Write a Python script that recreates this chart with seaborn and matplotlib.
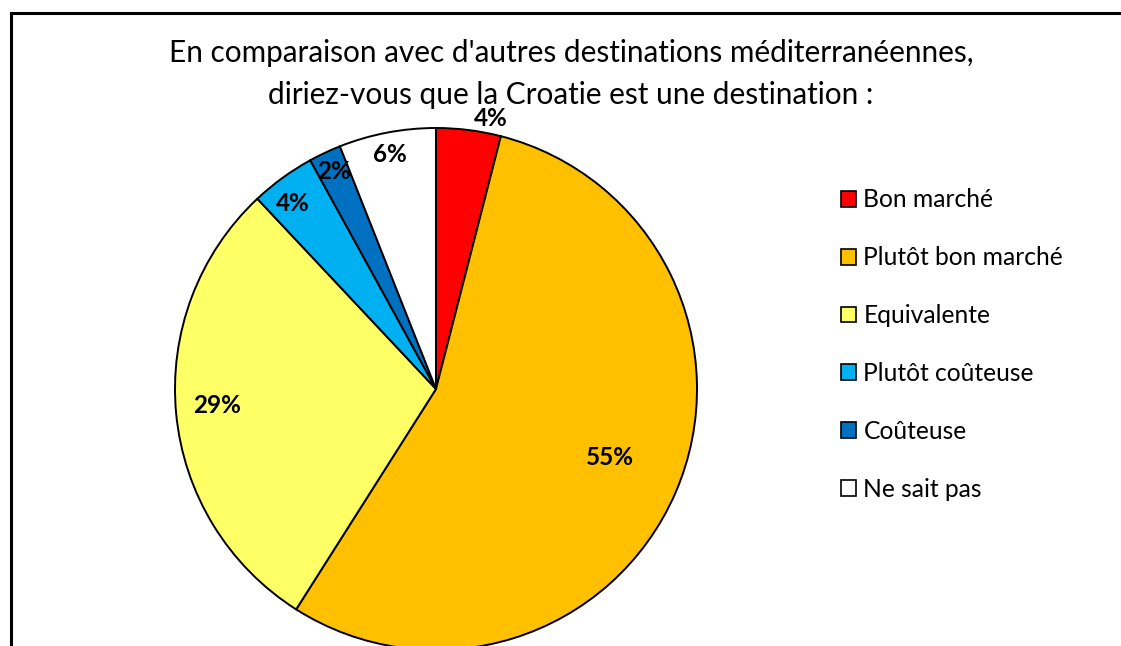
import matplotlib
matplotlib.use("Agg")
import matplotlib.pyplot as plt
import numpy as np
import seaborn as sns

# Survey answers: price of Croatia compared with other Mediterranean destinations
categories = ["Bon marché", "Plutôt bon marché", "Equivalente",
              "Plutôt coûteuse", "Coûteuse", "Ne sait pas"]
shares = [4, 55, 29, 4, 2, 6]
value_labels = ["4%", "55%", "29%", "4%", "2%", "6%"]
title_lines = ["En comparaison avec d'autres destinations méditerranéennes,",
               "diriez-vous que la Croatie est une destination :"]

colors = ["#FF0000", "#FFC000", "#FFFF66", "#00B0F0", "#0070C0", "#FFFFFF"]
# label placement: radius as a fraction of the pie radius, and a small angular nudge
label_radius = [1.057, 0.716, 0.843, 0.899, 0.922, 0.914]
label_nudge_deg = [4.3, -1.9, 1.2, -1.6, 0.1, -0.3]

sns.set_theme(style="white")
plt.rcParams["font.family"] = ["Lato", "DejaVu Sans"]
plt.rcParams["text.color"] = "black"

W, H = 1121, 646
fig = plt.figure(figsize=(W / 100, H / 100), dpi=100)
ax = fig.add_axes([0, 0, 1, 1])

cx, cy, R = 436, H - 389, 261
wedges, _ = ax.pie(shares, colors=colors, startangle=90, counterclock=False,
                   radius=R, center=(cx, cy), frame=True,
                   wedgeprops=dict(edgecolor="black", linewidth=1.4))
ax.set_xlim(0, W)
ax.set_ylim(0, H)
ax.set_aspect("equal")
ax.axis("off")

# percentage labels placed around each wedge's mid-angle (clockwise from 12 o'clock)
total = sum(shares)
cum = 0
for val, txt, rf, nudge in zip(shares, value_labels, label_radius, label_nudge_deg):
    theta = np.radians((cum + val / 2) / total * 360 + nudge)
    cum += val
    x = cx + rf * R * np.sin(theta)
    y = cy + rf * R * np.cos(theta)
    ax.text(x, y, txt, ha="center", va="center", fontsize=17.5,
            fontweight="bold", color="black")

ax.text(571, H - 53, title_lines[0], ha="center", va="center", fontsize=21.4,
        color="black")
ax.text(571, H - 95, title_lines[1], ha="center", va="center", fontsize=21.4,
        color="black")

leg = ax.legend(wedges, categories, loc="upper left",
                bbox_to_anchor=(831 / W, (H - 178.5) / H),
                frameon=False, fontsize=17.7, handlelength=0.62,
                handleheight=0.62, handletextpad=0.3, labelspacing=1.42,
                borderaxespad=0, labelcolor="black")
for h in leg.legend_handles:
    h.set_linewidth(1.2)

# outer chart frame
ax.plot([11, 11, W + 5], [-5, H - 13, H - 13], color="black", lw=2.2,
        solid_joinstyle="miter", clip_on=False)

fig.savefig("out.png", dpi=100)
